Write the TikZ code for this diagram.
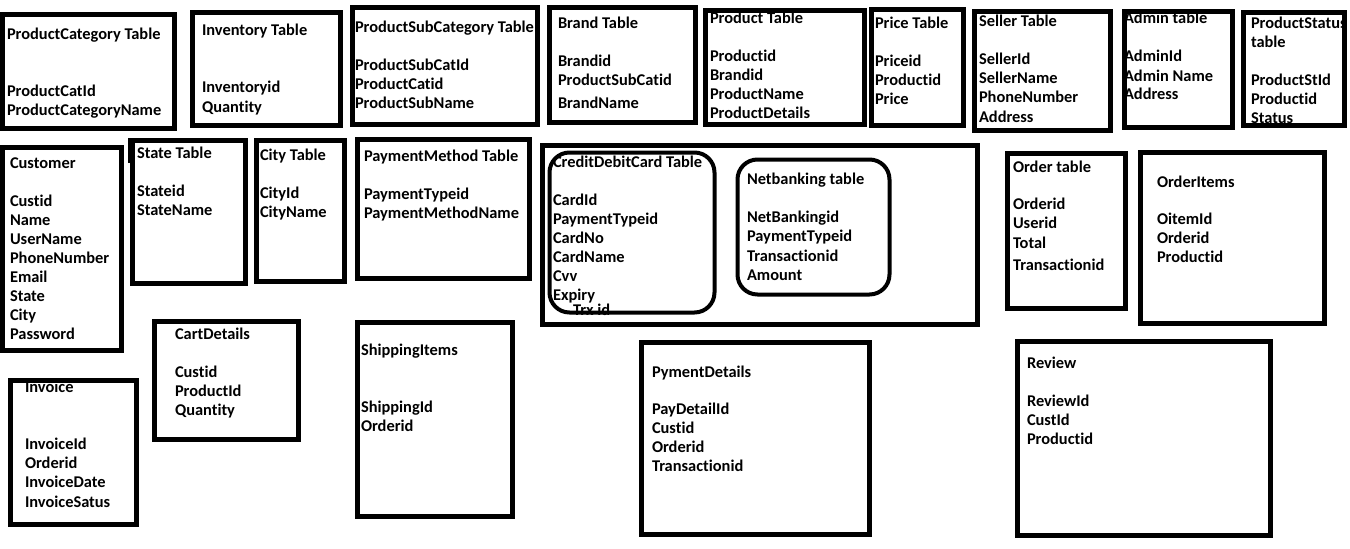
\documentclass[tikz,border=0pt]{standalone}
\usepackage{fontspec}
\setmainfont{Carlito}[Ligatures=CommonOff]
\tikzset{
 box/.style={draw=black, line width=5pt, inner sep=0pt, outer sep=0pt},
 rbox/.style={draw=black, line width=4pt, rounded corners=20pt, inner sep=0pt, outer sep=0pt},
 txt/.style={anchor=base west, inner sep=0pt, outer sep=0pt, font=\fontsize{16.4}{19}\selectfont\bfseries},
}
% \tbox[style]{name}{x1}{y1}{x2}{y2}  outer edges in px
\newcommand\tbox[6][box]{%
  \pgfmathsetmacro\myBW{#5-#3-5}\pgfmathsetmacro\myBH{#6-#4-5}%
  \node[#1, minimum width=\myBW pt, minimum height=\myBH pt] (#2) at ({(#3+#5)/2},{(#4+#6)/2}) {};}
\newcommand\tl[4]{\node[txt] (#1) at (#2,#3) {#4};}
\begin{document}
\begin{tikzpicture}[x=1pt,y=-1pt]
\useasboundingbox[fill=white] (0,0) rectangle (1350,549);
% ---- texts ----
\tl{pc0}{7}{39}{ProductCategory Table}
\tl{pc1}{7}{96}{ProductCatId}
\tl{pc2}{7}{115}{ProductCategoryName}
\tl{inv0}{202}{35}{Inventory Table}
\tl{inv1}{202}{92}{Inventoryid}
\tl{inv2}{202}{112}{Quantity}
\tl{psc0}{355}{32}{ProductSubCategory Table}
\tl{psc1}{355}{70}{ProductSubCatId}
\tl{psc2}{355}{89}{ProductCatid}
\tl{psc3}{355}{108}{ProductSubName}
\tl{br0}{558}{28}{Brand Table}
\tl{br1}{558}{66}{Brandid}
\tl{br2}{558}{85}{ProductSubCatid}
\tl{br3}{558}{108}{BrandName}
\tl{pr0}{710}{23}{Product Table}
\tl{pr1}{710}{61}{Productid}
\tl{pr2}{710}{80}{Brandid}
\tl{pr3}{710}{99}{ProductName}
\tl{pr4}{710}{118}{ProductDetails}
\tl{pe0}{875}{28}{Price Table}
\tl{pe1}{875}{66}{Priceid}
\tl{pe2}{875}{85}{Productid}
\tl{pe3}{875}{104}{Price}
\tl{se0}{979}{26}{Seller Table}
\tl{se1}{979}{64}{SellerId}
\tl{se2}{979}{83}{SellerName}
\tl{se3}{979}{102}{PhoneNumber}
\tl{se4}{979}{122}{Address}
\tl{ad0}{1124}{23}{Admin table}
\tl{ad1}{1124}{61}{AdminId}
\tl{ad2}{1124}{81}{Admin Name}
\tl{ad3}{1124}{99}{Address}
\tl{ps0}{1251}{28}{ProductStatus}
\tl{ps1}{1251}{47}{table}
\tl{ps2}{1251}{85}{ProductStId}
\tl{ps3}{1251}{104}{Productid}
\tl{ps4}{1251}{123}{Status}
\tl{cu0}{10}{168}{Customer}
\tl{cu1}{10}{206}{Custid}
\tl{cu2}{10}{225}{Name}
\tl{cu3}{10}{244}{UserName}
\tl{cu4}{10}{263}{PhoneNumber}
\tl{cu5}{10}{282}{Email}
\tl{cu6}{10}{301}{State}
\tl{cu7}{10}{320}{City}
\tl{cu8}{10}{339}{Password}
\tl{st0}{137}{158}{State Table}
\tl{st1}{137}{196}{Stateid}
\tl{st2}{137}{215}{StateName}
\tl{ci0}{260}{160}{City Table}
\tl{ci1}{260}{198}{CityId}
\tl{ci2}{260}{217}{CityName}
\tl{pm0}{364}{161}{PaymentMethod Table}
\tl{pm1}{364}{199}{PaymentTypeid}
\tl{pm2}{364}{218}{PaymentMethodName}
\tl{cd0}{553}{167}{CreditDebitCard Table}
\tl{cd1}{553}{205}{CardId}
\tl{cd2}{553}{224}{PaymentTypeid}
\tl{cd3}{553}{243}{CardNo}
\tl{cd4}{553}{262}{CardName}
\tl{cd5}{553}{281}{Cvv}
\tl{cd6}{553}{300}{Expiry}
\tl{cd7}{573}{315}{Trx id}
\tl{nb0}{747}{184}{Netbanking table}
\tl{nb1}{747}{222}{NetBankingid}
\tl{nb2}{747}{241}{PaymentTypeid}
\tl{nb3}{747}{261}{Transactionid}
\tl{nb4}{747}{280}{Amount}
\tl{or0}{1013}{172}{Order table}
\tl{or1}{1013}{209}{Orderid}
\tl{or2}{1013}{228}{Userid}
\tl{or3}{1013}{248}{Total}
\tl{or4}{1013}{270}{Transactionid}
\tl{oi0}{1157}{187}{OrderItems}
\tl{oi1}{1157}{224}{OitemId}
\tl{oi2}{1157}{243}{Orderid}
\tl{oi3}{1157}{262}{Productid}
\tl{ca0}{175}{339}{CartDetails}
\tl{ca1}{175}{377}{Custid}
\tl{ca2}{175}{396}{ProductId}
\tl{ca3}{175}{415}{Quantity}
\tl{iv0}{25}{392}{Invoice}
\tl{iv1}{25}{449}{InvoiceId}
\tl{iv2}{25}{468}{Orderid}
\tl{iv3}{25}{487}{InvoiceDate}
\tl{iv4}{25}{507}{InvoiceSatus}
\tl{sh0}{361}{355}{ShippingItems}
\tl{sh1}{361}{412}{ShippingId}
\tl{sh2}{361}{431}{Orderid}
\tl{py0}{652}{377}{PymentDetails}
\tl{py1}{652}{414}{PayDetailId}
\tl{py2}{652}{433}{Custid}
\tl{py3}{652}{452}{Orderid}
\tl{py4}{652}{471}{Transactionid}
\tl{rv0}{1027}{368}{Review}
\tl{rv1}{1027}{406}{ReviewId}
\tl{rv2}{1027}{425}{CustId}
\tl{rv3}{1027}{444}{Productid}
% ---- boxes ----
\tbox{pc}{0}{12}{177}{131}
\tbox{inv}{190}{10}{343}{128}
\tbox{psc}{350}{5}{540}{127}
\tbox{brand}{547}{5}{698}{125}
\tbox{prod}{703}{8}{867}{127}
\tbox{price}{869}{7}{966}{128}
\tbox{seller}{972}{9}{1113}{133}
\tbox{admin}{1122}{9}{1235}{130}
\tbox{pstat}{1241}{10}{1347}{128}
\tbox{cust}{0}{145}{124}{353}
\tbox{state}{130}{138}{248}{286}
\fill[black] (127.5,138) rectangle (130,163); % jog in the left border of State Table
\tbox{city}{254}{138}{347}{284}
\tbox{pm}{355}{137}{532}{281}
\tbox{pay}{540}{143}{980}{327}
\tbox[rbox]{credit}{547}{150}{717}{315}
\tbox[rbox]{net}{735}{157}{892}{297}
\tbox{order}{1005}{151}{1128}{311}
\tbox{oitems}{1138}{150}{1327}{326}
\tbox{cart}{152}{319}{301}{442}
\tbox{invoice}{8}{378}{139}{527}
\tbox{ship}{355}{320}{515}{519}
\tbox{paydet}{639}{340}{872}{537}
\tbox{review}{1015}{339}{1273}{538}
\end{tikzpicture}
\end{document}
